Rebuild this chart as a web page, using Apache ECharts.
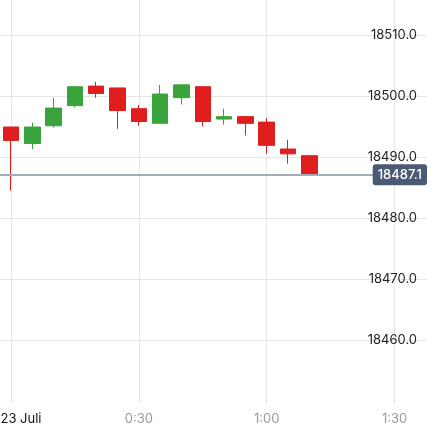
<!DOCTYPE html>
<html>
<head>
<meta charset="utf-8">
<script src="https://cdn.jsdelivr.net/npm/echarts@6/dist/echarts.min.js"></script>
<style>html,body{margin:0;padding:0;background:#fff}#c{width:436px;height:429px}</style>
</head>
<body>
<div id="c"></div>
<script>
// minutes since 23 Juli 0:00
var minutes = [0, 5, 10, 15, 20, 25, 30, 35, 40, 45, 50, 55, 60, 65, 70];
var opens  = [18494.9, 18492.2, 18495.1, 18498.4, 18501.6, 18501.3, 18497.9, 18495.5, 18499.7, 18501.5, 18496.2, 18496.6, 18495.7, 18491.3, 18490.2];
var closes = [18492.7, 18494.9, 18498.0, 18501.5, 18500.4, 18497.6, 18495.8, 18500.3, 18501.8, 18495.8, 18496.6, 18495.5, 18491.9, 18490.5, 18487.1];
var lows   = [18484.5, 18491.3, 18494.8, 18498.1, 18499.7, 18494.6, 18495.1, 18495.5, 18498.6, 18495.0, 18495.3, 18493.5, 18490.5, 18488.9, 18487.1];
var highs  = [18494.9, 18495.6, 18499.7, 18501.5, 18502.3, 18501.3, 18498.5, 18501.8, 18501.8, 18501.5, 18497.9, 18496.6, 18496.4, 18492.8, 18490.2];
var xTicks = [0, 30, 60, 90];
var xTickLabels = ['23 Juli', '0:30', '1:00', '1:30'];
var yTicks = [18460, 18470, 18480, 18490, 18500, 18510];
var lastPrice = 18487.1;

var candles = minutes.map(function (m, i) {
  return [m, opens[i], closes[i], lows[i], highs[i]];
});

var chart = echarts.init(document.getElementById('c'));
chart.setOption({
  animation: false,
  textStyle: { fontFamily: 'Inter' },
  grid: { left: 0, right: 9, top: 0, bottom: 26, containLabel: false, outerBoundsMode: 'none' },
  xAxis: {
    type: 'value', min: -2.58, max: 97.6,
    axisLine: { show: false },
    axisTick: { show: false, customValues: xTicks },
    splitLine: { show: true, lineStyle: { color: '#e6e6e6' } },
    axisLabel: {
      customValues: xTicks, margin: 10, fontSize: 13, color: '#999',
      formatter: function (v) {
        var t = xTickLabels[xTicks.indexOf(v)];
        return v === 0 ? '{d|' + t + '}' : t;
      },
      rich: { d: { color: '#111', fontSize: 13, padding: [0, 0, 0, 20] } }
    }
  },
  yAxis: {
    type: 'value', position: 'right', min: 18449.7, max: 18515.7,
    axisLine: { show: false },
    axisTick: { show: false, customValues: yTicks },
    splitLine: { show: true, lineStyle: { color: '#e6e6e6' } },
    axisLabel: {
      inside: true, customValues: yTicks, margin: 10, fontSize: 13, color: '#222',
      formatter: function (v) { return v.toFixed(1); }
    }
  },
  series: [{
    type: 'candlestick',
    data: candles,
    encode: { x: 0, y: [1, 2, 3, 4] },
    barWidth: 16,
    itemStyle: {
      color: '#3aa43c', borderColor: '#3aa43c',
      color0: '#e01e1e', borderColor0: '#e01e1e', borderWidth: 1
    },
    markLine: {
      symbol: 'none', silent: true,
      lineStyle: { color: '#a3aebd', width: 2, type: 'solid' },
      label: {
        position: 'insideEnd', distance: 0,
        formatter: function () { return lastPrice.toFixed(1); },
        backgroundColor: '#4a5a75', color: '#fff', fontSize: 13, fontWeight: 500,
        padding: [4, 5], borderRadius: 3
      },
      data: [{ yAxis: lastPrice }]
    }
  }]
});
</script>
</body>
</html>
